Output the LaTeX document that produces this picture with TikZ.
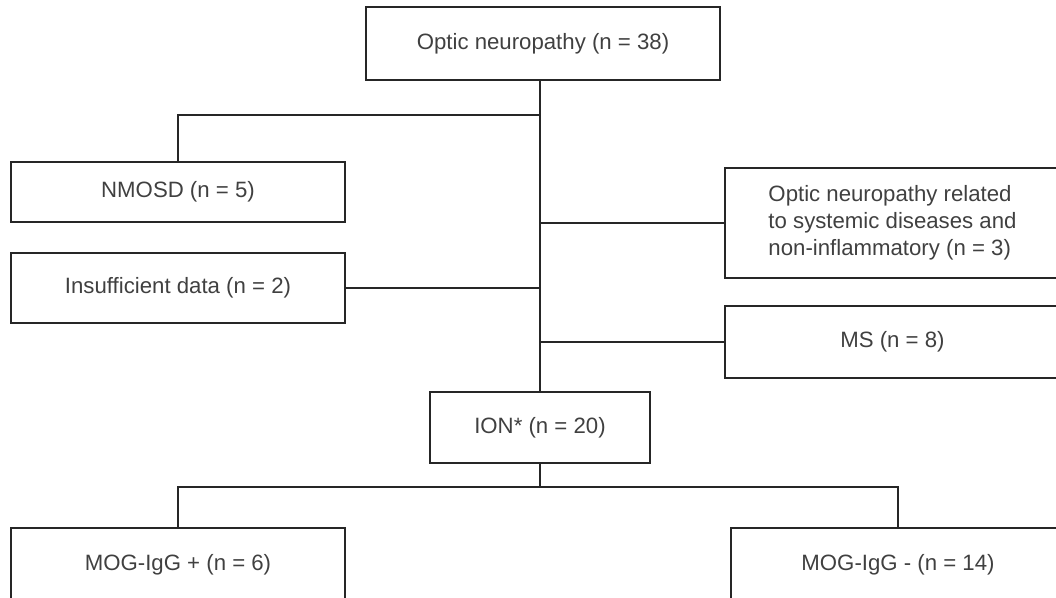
\documentclass[tikz,border=0pt]{standalone}
\usepackage{fontspec}
\setmainfont{Liberation Sans}
\usepackage{tikz}
\usetikzlibrary{positioning, calc}

\begin{document}
\begin{tikzpicture}[
    x=0.5pt, y=-0.5pt,
    box/.style={rectangle, draw=black!85, line width=0.8pt, text=black!75,
                font=\fontsize{11.1}{13.5}\selectfont, align=center, inner sep=0pt},
    link/.style={draw=black!85, line width=0.8pt}
]
\useasboundingbox (0,0) rectangle (1056,598);
\clip (0,0) rectangle (1056,598);

\node[box, minimum width=177pt, minimum height=36.5pt] (optic) at (543,43.5) {Optic neuropathy (n = 38)};
\node[box, minimum width=167pt, minimum height=30pt] (nmosd) at (178,192) {NMOSD (n = 5)};
\node[box, minimum width=167pt, minimum height=35pt] (insuf) at (178,288) {Insufficient data (n = 2)};
\node[box, minimum width=167.5pt, minimum height=55pt, align=left] (sysd) at (892.5,223)
    {Optic neuropathy related\\to systemic diseases and\\non-inflammatory (n = 3)};
\node[box, minimum width=167.5pt, minimum height=36pt] (ms) at (892.5,342) {MS (n = 8)};
\node[box, minimum width=110pt, minimum height=35.5pt] (ion) at (540,427.5) {ION* (n = 20)};
\node[box, minimum width=167pt, minimum height=37pt] (mogpos) at (178,565) {MOG-IgG + (n = 6)};
\node[box, minimum width=167pt, minimum height=37pt] (mogneg) at (898,565) {MOG-IgG - (n = 14)};

\coordinate (fork1) at (540,115);
\coordinate (fork2) at (540,487);

\draw[link] (optic.south -| ion.north) -- (ion.north);
\draw[link] (fork1) -| (nmosd.north);
\draw[link] (ion.north |- sysd.west) -- (sysd.west);
\draw[link] (insuf.east) -- (insuf.east -| ion.north);
\draw[link] (ion.north |- ms.west) -- (ms.west);
\draw[link] (ion.south) -- (fork2);
\draw[link] (mogpos.north) |- (fork2) -| (mogneg.north);
\end{tikzpicture}
\end{document}
